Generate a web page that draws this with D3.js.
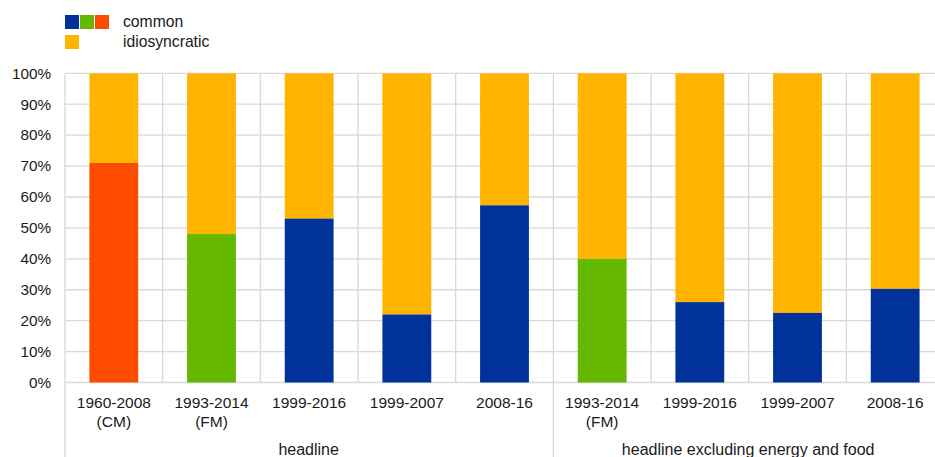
<!DOCTYPE html>
<html><head><meta charset="utf-8">
<script src="https://cdn.jsdelivr.net/npm/d3@7"></script>
<style>body{margin:0;background:#fff}svg{display:block;font-family:"Liberation Sans",Arial,sans-serif}</style>
</head><body>
<svg id="c" width="935" height="457"></svg>
<script>
const categories = ["1960-2008\n(CM)","1993-2014\n(FM)","1999-2016","1999-2007","2008-16","1993-2014\n(FM)","1999-2016","1999-2007","2008-16"];
const groups = ["headline","headline","headline","headline","headline","headline excluding energy and food","headline excluding energy and food","headline excluding energy and food","headline excluding energy and food"];
const commonValues = [71, 48, 53, 22, 57.3, 40, 26, 22.5, 30.3];
const commonColors = ["#ff4b00","#65b800","#003299","#003299","#003299","#65b800","#003299","#003299","#003299"];
const idioColor = "#ffb400";
const yTicks = [0,10,20,30,40,50,60,70,80,90,100];

const svg = d3.select("#c");
const L = 65, R = 944, T = 73.3, B = 382.5;
const x = d3.scaleBand().domain(d3.range(categories.length)).range([L, R]).paddingInner(0.5).paddingOuter(0.25);
const xb = d3.scaleBand().domain(d3.range(categories.length)).range([L, R]);
const y = d3.scaleLinear().domain([0,100]).range([B, T]);
const grid = "#d9d9d9";
const txt = "#1a1a1a";

// horizontal gridlines
svg.append("g").selectAll("line").data(yTicks).join("line")
  .attr("x1", L).attr("x2", R).attr("y1", d => y(d)).attr("y2", d => y(d))
  .attr("stroke", grid).attr("stroke-width", 1.3);
// vertical gridlines
svg.append("g").selectAll("line").data(d3.range(categories.length + 1)).join("line")
  .attr("x1", i => L + i * xb.bandwidth()).attr("x2", i => L + i * xb.bandwidth())
  .attr("y1", T).attr("y2", i => (i === 0 || i === 5 || i === 9) ? 457 : B)
  .attr("stroke", grid).attr("stroke-width", 1.3);

// bars
const bars = svg.append("g");
categories.forEach((c, i) => {
  bars.append("rect").attr("x", x(i)).attr("width", x.bandwidth())
    .attr("y", y(100)).attr("height", y(commonValues[i]) - y(100)).attr("fill", idioColor);
  bars.append("rect").attr("x", x(i)).attr("width", x.bandwidth())
    .attr("y", y(commonValues[i])).attr("height", y(0) - y(commonValues[i])).attr("fill", commonColors[i]);
});

// y axis labels
svg.append("g").selectAll("text").data(yTicks).join("text")
  .attr("x", 51).attr("y", d => y(d)).attr("dy", "0.35em").attr("text-anchor", "end")
  .attr("font-size", 15.3).attr("fill", txt).text(d => d + "%");

// x labels
categories.forEach((c, i) => {
  const lines = c.split("\n");
  const t = svg.append("text").attr("text-anchor", "middle").attr("font-size", 15.5).attr("fill", txt);
  lines.forEach((ln, k) => {
    t.append("tspan").attr("x", xb(i) + xb.bandwidth() / 2).attr("y", 407.5 + k * 19).text(ln);
  });
});

// group labels
const groupNames = Array.from(new Set(groups));
groupNames.forEach(g => {
  const idx = groups.map((d, i) => d === g ? i : -1).filter(i => i >= 0);
  const x0 = xb(idx[0]), x1 = xb(idx[idx.length - 1]) + xb.bandwidth();
  svg.append("text").attr("x", (x0 + x1) / 2 - 0.5).attr("y", 454.5)
    .attr("text-anchor", "middle").attr("font-size", 16).attr("fill", txt).text(g);
});

// legend
const lg = svg.append("g");
[["#003299",65,15],["#65b800",80,15],["#ff4b00",95,15],[idioColor,65,35]].forEach(([col,lx,ly]) => {
  lg.append("rect").attr("x", lx).attr("y", ly).attr("width", 14).attr("height", 14).attr("fill", col);
});
lg.append("text").attr("x", 123).attr("y", 21.5).attr("dy", "0.35em").attr("font-size", 15.7).attr("fill", txt).text("common");
lg.append("text").attr("x", 123).attr("y", 41.5).attr("dy", "0.35em").attr("font-size", 15.7).attr("fill", txt).text("idiosyncratic");
</script>
</body></html>
